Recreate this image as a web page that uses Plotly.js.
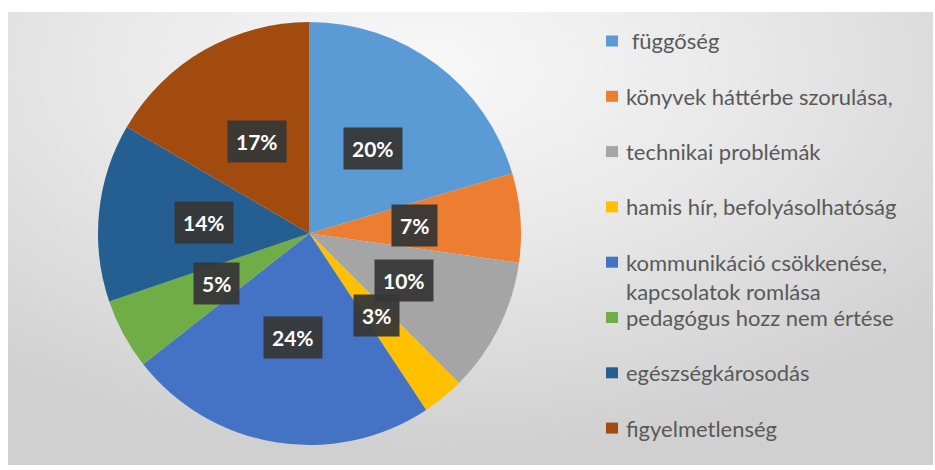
<!DOCTYPE html>
<html><head><meta charset="utf-8">
<script src="https://cdn.plot.ly/plotly-3.0.1.min.js"></script>
<style>
html,body{margin:0;padding:0;background:#fff;}
#wrap{position:relative;width:935px;height:470px;overflow:hidden;}
#bg{position:absolute;left:8px;top:12px;width:925px;height:453px;
  background:radial-gradient(ellipse 75% 85% at 45% 12%, #f8f8f8 0%, #e9e9e9 45%, #d0d0d0 100%);}
#chart{position:absolute;left:0;top:0;width:935px;height:470px;}
</style></head>
<body><div id="wrap"><div id="bg"></div><div id="chart"></div></div>
<script>
const categories = [
  '\u00a0függőség',
  'könyvek háttérbe szorulása,',
  'technikai problémák',
  'hamis hír, befolyásolhatóság',
  'kommunikáció csökkenése,<br>kapcsolatok romlása',
  'pedagógus hozz nem értése',
  'egészségkárosodás',
  'figyelmetlenség'
];
const values = [20.4, 6.8, 10.3, 3.2, 23.7, 5.4, 13.6, 16.6];
const colors = ['#5B9BD5','#ED7D31','#A5A5A5','#FFC000','#4472C4','#70AD47','#255E91','#A24B0F'];

const W = 935, H = 470;
const cx = 309.5, cy = 233.5, R = 211.5;
const total = values.reduce((a,b)=>a+b,0);
const pctText = values.map(v => Math.round(v/total*100) + '%');

const trace = {
  type: 'pie',
  labels: categories,
  values: values,
  sort: false,
  direction: 'clockwise',
  rotation: 0,
  marker: {colors: colors, line: {width: 0}},
  textinfo: 'none',
  hoverinfo: 'label+percent',
  showlegend: false,
  domain: {x: [(cx-R)/W, (cx+R)/W], y: [(H-cy-R)/H, (H-cy+R)/H]}
};

const annotations = [];
const shapes = [];
let cum = 0;
values.forEach((v, i) => {
  const mid = (cum + v/2) / total * 2 * Math.PI;
  cum += v;
  const px = cx + 0.5*R*Math.sin(mid);
  const py = cy - 0.5*R*Math.cos(mid);
  annotations.push({
    xref:'paper', yref:'paper', x: px/W, y: 1 - py/H,
    text: pctText[i], showarrow:false,
    font:{family:'Lato, "Open Sans", sans-serif', size:21, color:'#ffffff', weight:'bold'},
    bgcolor:'rgba(55,55,55,0.95)', borderpad:8, xanchor:'center', yanchor:'middle'
  });
});

// legend
const legFont = 22;
categories.forEach((c, i) => {
  const yc = 41 + 55.3*i;
  const lines = c.split('<br>').length;
  annotations.push({
    xref:'paper', yref:'paper', x: 624/W, y: 1 - (yc + (lines-1)*legFont*1.3/2)/H,
    text: c, showarrow:false, align:'left',
    font:{family:'Lato, "Open Sans", sans-serif', size:legFont, color:'#595959'},
    xanchor:'left', yanchor:'middle'
  });
  shapes.push({
    type:'rect', xref:'paper', yref:'paper',
    x0: 606/W, x1: 618/W, y0: 1 - (yc+5.5)/H, y1: 1 - (yc-5.5)/H,
    fillcolor: colors[i], line:{width:0}
  });
});

const layout = {
  width: W, height: H,
  margin: {l:0, r:0, t:0, b:0},
  paper_bgcolor:'rgba(0,0,0,0)',
  plot_bgcolor:'rgba(0,0,0,0)',
  showlegend:false,
  annotations: annotations,
  shapes: shapes
};
Plotly.newPlot('chart', [trace], layout, {staticPlot:true});
</script>
</body></html>
